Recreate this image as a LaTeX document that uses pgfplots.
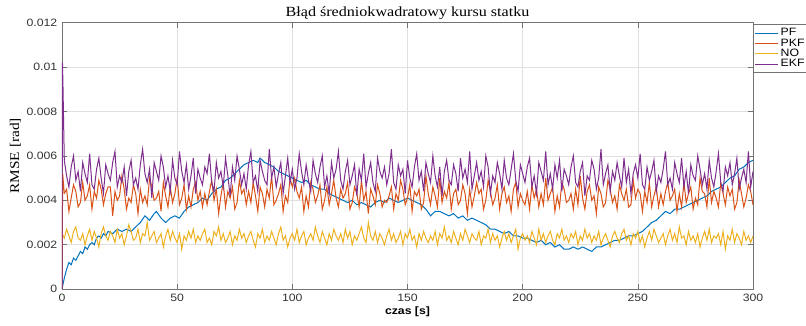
\documentclass[border=0pt]{standalone}
\usepackage{pgfplots}
\pgfplotsset{compat=1.18}
\usepackage{fontspec}
\setmainfont{Liberation Sans}[FakeStretch=1.15]
\newfontfamily\titlefont{Liberation Serif}[FakeStretch=1.15]
\definecolor{cPF}{rgb}{0,0.447,0.741}
\definecolor{cPKF}{rgb}{0.85,0.325,0.098}
\definecolor{cNO}{rgb}{0.929,0.694,0.125}
\definecolor{cEKF}{rgb}{0.494,0.184,0.556}
\begin{document}
\begin{tikzpicture}
\begin{axis}[
 scale only axis, width=518.25pt, height=200pt,
 xmin=0, xmax=300, ymin=0, ymax=0.012,
 xtick={0,50,100,150,200,250,300}, xticklabels={0,50,100,150,200,250,300},
 ytick={0,0.002,0.004,0.006,0.008,0.01,0.012}, yticklabels={0,0.002,0.004,0.006,0.008,0.01,0.012},
 scaled y ticks=false,
 tick align=inside, major tick length=4pt,
 grid=major, major grid style={black!12, line width=0.4pt},
 axis line style={black!55, line width=0.5pt},
 tick style={black!55, line width=0.5pt},
 tick label style={font=\fontsize{8}{9}\selectfont, text=black!80},
 title={\titlefont Błąd średniokwadratowy kursu statku},
 every axis title/.style={at={(0.5,1)}, anchor=base, yshift=4.9pt, font=\fontsize{10.5}{12}\selectfont},
 ylabel={\titlefont RMSE [rad]},
 ylabel style={font=\fontsize{10}{12}\selectfont, at={(axis description cs:-0.0675,0.5)}, anchor=center},
 xlabel={czas [s]},
 xlabel style={font=\fontsize{8}{9}\selectfont\bfseries, at={(axis description cs:0.5,0)}, anchor=center, yshift=-17.25pt},
 legend style={at={(1,1)}, anchor=north west, yshift=-1.2pt, draw=black!55, fill=white, font=\fontsize{8}{9}\selectfont, inner xsep=1pt, inner ysep=1pt, row sep=-3.3pt},
 legend cell align=left,
 legend image code/.code={\draw[#1, line width=0.6pt] (0pt,0pt) -- (17pt,0pt);},
 every axis plot/.append style={line width=0.75pt},
]
\addplot[cPF] coordinates {(0,0) (1,0.0005) (2,0.0009) (3,0.0012) (4,0.0011) (5,0.0014) (6,0.0013) (7,0.0015) (8,0.0017) (9,0.0016) (10,0.0019) (11,0.0018) (12,0.0020) (13,0.0021) (14,0.0020) (15,0.0023) (16,0.0024) (17,0.0023) (18,0.0025) (19,0.0024) (20,0.0026) (22,0.0025) (24,0.0027) (26,0.0026) (28,0.0027) (30,0.0026) (32,0.0028) (34,0.0030) (36,0.0033) (38,0.0031) (40,0.0034) (41,0.0035) (43,0.0032) (45,0.0030) (47,0.0032) (49,0.0033) (51,0.0032) (53,0.0035) (55,0.0037) (57,0.0038) (59,0.0039) (61,0.0041) (63,0.0040) (65,0.0043) (67,0.0045) (69,0.0046) (71,0.0049) (73,0.0050) (75,0.0052) (77,0.0054) (79,0.0056) (81,0.0057) (83,0.0058) (85,0.0057) (86,0.0059) (88,0.0057) (90,0.0056) (92,0.0055) (94,0.0053) (96,0.0052) (98,0.0051) (100,0.0050) (102,0.0049) (104,0.0048) (106,0.0049) (108,0.0047) (110,0.0046) (112,0.0045) (114,0.0045) (116,0.0043) (118,0.0042) (120,0.0041) (122,0.0040) (124,0.0039) (126,0.0040) (128,0.0038) (130,0.0039) (132,0.0038) (134,0.0037) (136,0.0039) (138,0.0040) (140,0.0039) (142,0.0041) (144,0.0040) (146,0.0039) (148,0.0040) (150,0.0041) (152,0.0040) (154,0.0039) (156,0.0038) (158,0.0036) (160,0.0033) (162,0.0035) (164,0.0035) (166,0.0034) (168,0.0033) (170,0.0034) (172,0.0032) (174,0.0033) (176,0.0031) (178,0.0032) (180,0.0031) (182,0.0030) (184,0.0029) (186,0.0027) (188,0.0027) (190,0.0026) (192,0.0025) (194,0.0026) (196,0.0024) (198,0.0024) (200,0.0023) (202,0.0023) (204,0.0022) (206,0.0021) (208,0.0022) (210,0.0020) (212,0.0021) (214,0.0019) (216,0.0020) (218,0.0018) (220,0.0018) (222,0.0019) (224,0.0018) (226,0.0019) (228,0.0018) (230,0.0017) (232,0.0019) (234,0.0019) (236,0.0020) (238,0.0021) (240,0.0022) (242,0.0022) (244,0.0023) (246,0.0024) (248,0.0024) (250,0.0025) (252,0.0026) (254,0.0028) (256,0.0030) (258,0.0031) (260,0.0033) (262,0.0035) (264,0.0034) (266,0.0036) (268,0.0036) (270,0.0037) (272,0.0038) (274,0.0039) (276,0.0040) (278,0.0041) (280,0.0042) (282,0.0044) (284,0.0045) (286,0.0046) (288,0.0048) (290,0.0050) (292,0.0051) (294,0.0054) (296,0.0055) (298,0.0057) (300,0.0058)};
\addlegendentry{PF}
\addplot[cPKF] table[row sep=\\, header=false, x expr=\coordindex+1, y index=0] {
0.0043\\0.0045\\0.0035\\0.0041\\0.0047\\0.0044\\0.0037\\0.0039\\0.0048\\0.0040\\0.0042\\0.0047\\0.0036\\0.0044\\0.0041\\0.0049\\0.0045\\0.0038\\0.0043\\0.0046\\
0.0046\\0.0033\\0.0044\\0.0040\\0.0042\\0.0051\\0.0045\\0.0036\\0.0041\\0.0039\\0.0047\\0.0043\\0.0034\\0.0045\\0.0039\\0.0042\\0.0038\\0.0050\\0.0046\\0.0040\\
0.0041\\0.0044\\0.0035\\0.0048\\0.0042\\0.0037\\0.0046\\0.0039\\0.0043\\0.0050\\0.0038\\0.0041\\0.0047\\0.0036\\0.0042\\0.0037\\0.0045\\0.0048\\0.0040\\0.0044\\
0.0037\\0.0043\\0.0038\\0.0044\\0.0049\\0.0040\\0.0045\\0.0034\\0.0042\\0.0048\\0.0037\\0.0044\\0.0041\\0.0046\\0.0036\\0.0039\\0.0049\\0.0043\\0.0045\\0.0038\\
0.0044\\0.0039\\0.0048\\0.0042\\0.0035\\0.0046\\0.0043\\0.0037\\0.0045\\0.0041\\0.0051\\0.0038\\0.0040\\0.0043\\0.0047\\0.0035\\0.0042\\0.0039\\0.0050\\0.0046\\
0.0050\\0.0044\\0.0041\\0.0046\\0.0035\\0.0042\\0.0037\\0.0048\\0.0045\\0.0039\\0.0042\\0.0047\\0.0036\\0.0040\\0.0046\\0.0038\\0.0043\\0.0049\\0.0041\\0.0037\\
0.0045\\0.0041\\0.0043\\0.0048\\0.0036\\0.0039\\0.0046\\0.0043\\0.0037\\0.0049\\0.0040\\0.0044\\0.0034\\0.0045\\0.0042\\0.0038\\0.0047\\0.0043\\0.0037\\0.0040\\
0.0039\\0.0042\\0.0046\\0.0036\\0.0043\\0.0040\\0.0049\\0.0045\\0.0038\\0.0041\\0.0047\\0.0035\\0.0044\\0.0042\\0.0045\\0.0036\\0.0039\\0.0051\\0.0043\\0.0038\\
0.0046\\0.0042\\0.0037\\0.0050\\0.0039\\0.0044\\0.0041\\0.0048\\0.0036\\0.0043\\0.0045\\0.0038\\0.0040\\0.0047\\0.0043\\0.0034\\0.0045\\0.0037\\0.0042\\0.0048\\
0.0043\\0.0045\\0.0036\\0.0040\\0.0049\\0.0044\\0.0038\\0.0041\\0.0047\\0.0036\\0.0043\\0.0046\\0.0039\\0.0042\\0.0035\\0.0045\\0.0048\\0.0037\\0.0043\\0.0040\\
0.0038\\0.0044\\0.0036\\0.0047\\0.0041\\0.0045\\0.0037\\0.0043\\0.0038\\0.0050\\0.0040\\0.0043\\0.0046\\0.0035\\0.0042\\0.0037\\0.0048\\0.0045\\0.0039\\
0.0040\\0.0043\\0.0036\\0.0045\\0.0038\\0.0051\\0.0041\\0.0036\\0.0044\\0.0047\\0.0040\\0.0042\\0.0034\\0.0046\\0.0043\\0.0037\\0.0039\\0.0049\\0.0045\\
0.0039\\0.0042\\0.0036\\0.0047\\0.0043\\0.0040\\0.0045\\0.0037\\0.0038\\0.0049\\0.0041\\0.0045\\0.0043\\0.0035\\0.0044\\0.0039\\0.0048\\0.0037\\0.0042\\0.0046\\
0.0037\\0.0043\\0.0038\\0.0044\\0.0048\\0.0040\\0.0042\\0.0045\\0.0035\\0.0043\\0.0037\\0.0048\\0.0039\\0.0043\\0.0046\\0.0036\\0.0041\\0.0038\\0.0050\\0.0044\\
0.0043\\0.0037\\0.0050\\0.0039\\0.0044\\0.0041\\0.0037\\0.0048\\0.0043\\0.0038\\0.0046\\0.0042\\0.0045\\0.0036\\0.0039\\0.0049\\0.0043\\0.0037\\0.0041\\0.0047\\
0.0044\\0.0038\\
};
\addlegendentry{PKF}
\addplot[cNO] table[row sep=\\, header=false, x expr=\coordindex, y index=0] {
0.0025\\0.0023\\0.0027\\0.0024\\0.0021\\0.0026\\0.0028\\0.0023\\0.0022\\0.0025\\0.0020\\0.0024\\0.0027\\0.0022\\0.0026\\0.0023\\0.0019\\0.0025\\0.0028\\0.0024\\
0.0022\\0.0026\\0.0024\\0.0021\\0.0027\\0.0023\\0.0025\\0.0020\\0.0024\\0.0029\\0.0026\\0.0022\\0.0023\\0.0027\\0.0021\\0.0025\\0.0024\\0.0030\\0.0022\\0.0024\\
0.0026\\0.0021\\0.0023\\0.0025\\0.0019\\0.0024\\0.0027\\0.0022\\0.0026\\0.0023\\0.0021\\0.0025\\0.0018\\0.0024\\0.0022\\0.0026\\0.0023\\0.0027\\0.0021\\0.0024\\
0.0022\\0.0025\\0.0027\\0.0021\\0.0023\\0.0020\\0.0026\\0.0024\\0.0028\\0.0022\\0.0025\\0.0021\\0.0023\\0.0026\\0.0020\\0.0024\\0.0022\\0.0027\\0.0023\\0.0025\\
0.0021\\0.0024\\0.0026\\0.0022\\0.0019\\0.0025\\0.0023\\0.0027\\0.0021\\0.0024\\0.0022\\0.0026\\0.0023\\0.0020\\0.0025\\0.0028\\0.0022\\0.0024\\0.0019\\0.0023\\
0.0025\\0.0022\\0.0027\\0.0021\\0.0024\\0.0026\\0.0020\\0.0023\\0.0025\\0.0022\\0.0028\\0.0024\\0.0021\\0.0026\\0.0023\\0.0020\\0.0025\\0.0022\\0.0027\\0.0024\\
0.0022\\0.0025\\0.0021\\0.0027\\0.0023\\0.0026\\0.0020\\0.0024\\0.0022\\0.0025\\0.0028\\0.0023\\0.0021\\0.0030\\0.0024\\0.0022\\0.0026\\0.0021\\0.0025\\0.0023\\
0.0020\\0.0024\\0.0027\\0.0022\\0.0025\\0.0021\\0.0023\\0.0026\\0.0020\\0.0025\\0.0023\\0.0027\\0.0022\\0.0024\\0.0019\\0.0025\\0.0022\\0.0026\\0.0023\\0.0021\\
0.0024\\0.0022\\0.0026\\0.0020\\0.0025\\0.0023\\0.0028\\0.0022\\0.0024\\0.0021\\0.0026\\0.0023\\0.0020\\0.0025\\0.0022\\0.0027\\0.0024\\0.0021\\0.0025\\0.0023\\
0.0022\\0.0026\\0.0020\\0.0024\\0.0023\\0.0027\\0.0021\\0.0025\\0.0022\\0.0024\\0.0019\\0.0023\\0.0026\\0.0022\\0.0025\\0.0021\\0.0024\\0.0027\\0.0018\\0.0023\\
0.0025\\0.0022\\0.0024\\0.0021\\0.0026\\0.0023\\0.0020\\0.0027\\0.0022\\0.0025\\0.0021\\0.0024\\0.0026\\0.0022\\0.0020\\0.0025\\0.0023\\0.0027\\0.0022\\0.0024\\
0.0021\\0.0025\\0.0023\\0.0026\\0.0020\\0.0024\\0.0022\\0.0027\\0.0023\\0.0025\\0.0021\\0.0024\\0.0022\\0.0026\\0.0020\\0.0023\\0.0025\\0.0022\\0.0019\\0.0024\\
0.0026\\0.0023\\0.0021\\0.0025\\0.0027\\0.0022\\0.0024\\0.0020\\0.0025\\0.0023\\0.0026\\0.0021\\0.0024\\0.0019\\0.0023\\0.0026\\0.0022\\0.0027\\0.0024\\0.0021\\
0.0023\\0.0025\\0.0020\\0.0024\\0.0027\\0.0022\\0.0025\\0.0021\\0.0028\\0.0023\\0.0024\\0.0020\\0.0026\\0.0022\\0.0024\\0.0021\\0.0025\\0.0019\\0.0023\\0.0026\\
0.0022\\0.0027\\0.0021\\0.0024\\0.0023\\0.0025\\0.0020\\0.0026\\0.0018\\0.0024\\0.0022\\0.0027\\0.0021\\0.0025\\0.0023\\0.0020\\0.0026\\0.0022\\0.0024\\0.0021\\
0.0024\\
};
\addlegendentry{NO}
\addplot[cEKF] table[row sep=\\, header=false, x expr=\coordindex+1, y index=0] {
0.0058\\0.0051\\0.0046\\0.0055\\0.0060\\0.0049\\0.0053\\0.0044\\0.0057\\0.0052\\0.0048\\0.0061\\0.0047\\0.0045\\0.0054\\0.0059\\0.0050\\0.0043\\0.0056\\0.0052\\
0.0049\\0.0057\\0.0062\\0.0046\\0.0051\\0.0048\\0.0055\\0.0042\\0.0053\\0.0058\\0.0047\\0.0050\\0.0045\\0.0056\\0.0063\\0.0052\\0.0048\\0.0054\\0.0041\\0.0057\\
0.0053\\0.0049\\0.0060\\0.0055\\0.0046\\0.0051\\0.0044\\0.0058\\0.0050\\0.0047\\0.0062\\0.0053\\0.0048\\0.0056\\0.0045\\0.0051\\0.0059\\0.0043\\0.0054\\0.0050\\
0.0047\\0.0055\\0.0052\\0.0061\\0.0048\\0.0044\\0.0057\\0.0050\\0.0053\\0.0046\\0.0059\\0.0051\\0.0042\\0.0055\\0.0049\\0.0060\\0.0054\\0.0047\\0.0052\\0.0045\\
0.0056\\0.0062\\0.0048\\0.0051\\0.0044\\0.0058\\0.0053\\0.0049\\0.0047\\0.0063\\0.0050\\0.0055\\0.0046\\0.0052\\0.0057\\0.0043\\0.0051\\0.0059\\0.0048\\0.0054\\
0.0045\\0.0050\\0.0061\\0.0053\\0.0047\\0.0056\\0.0049\\0.0044\\0.0058\\0.0052\\0.0048\\0.0055\\0.0060\\0.0046\\0.0051\\0.0043\\0.0057\\0.0050\\0.0054\\0.0062\\
0.0049\\0.0045\\0.0053\\0.0058\\0.0047\\0.0051\\0.0056\\0.0042\\0.0054\\0.0049\\0.0061\\0.0046\\0.0052\\0.0057\\0.0048\\0.0044\\0.0059\\0.0053\\0.0050\\0.0055\\
0.0047\\0.0052\\0.0063\\0.0048\\0.0045\\0.0056\\0.0051\\0.0054\\0.0043\\0.0058\\0.0050\\0.0046\\0.0055\\0.0061\\0.0049\\0.0053\\0.0044\\0.0057\\0.0052\\0.0048\\
0.0060\\0.0051\\0.0046\\0.0055\\0.0042\\0.0053\\0.0058\\0.0049\\0.0047\\0.0056\\0.0052\\0.0044\\0.0059\\0.0050\\0.0054\\0.0048\\0.0062\\0.0045\\0.0051\\0.0057\\
0.0049\\0.0053\\0.0046\\0.0060\\0.0055\\0.0043\\0.0051\\0.0048\\0.0057\\0.0052\\0.0045\\0.0058\\0.0050\\0.0047\\0.0054\\0.0061\\0.0049\\0.0044\\0.0056\\0.0052\\
0.0048\\0.0055\\0.0059\\0.0046\\0.0051\\0.0043\\0.0057\\0.0053\\0.0049\\0.0062\\0.0047\\0.0052\\0.0045\\0.0056\\0.0050\\0.0058\\0.0044\\0.0054\\0.0051\\0.0047\\
0.0055\\0.0060\\0.0048\\0.0046\\0.0053\\0.0057\\0.0042\\0.0051\\0.0049\\0.0058\\0.0054\\0.0045\\0.0050\\0.0063\\0.0047\\0.0052\\0.0056\\0.0044\\0.0053\\0.0049\\
0.0057\\0.0051\\0.0046\\0.0059\\0.0048\\0.0054\\0.0043\\0.0052\\0.0056\\0.0050\\0.0061\\0.0047\\0.0045\\0.0055\\0.0049\\0.0053\\0.0058\\0.0044\\0.0051\\0.0048\\
0.0054\\0.0062\\0.0047\\0.0050\\0.0045\\0.0057\\0.0052\\0.0048\\0.0059\\0.0046\\0.0053\\0.0043\\0.0056\\0.0051\\0.0049\\0.0060\\0.0054\\0.0047\\0.0052\\0.0045\\
0.0058\\0.0050\\0.0046\\0.0053\\0.0061\\0.0048\\0.0044\\0.0055\\0.0051\\0.0057\\0.0047\\0.0052\\0.0059\\0.0045\\0.0050\\0.0054\\0.0048\\0.0062\\0.0046\\0.0053\\
};
\addlegendentry{EKF}
\addplot[cPKF, forget plot] coordinates {(0,0) (0.3,0.0052) (1,0.0043)};
\addplot[cEKF, forget plot] coordinates {(0,0) (0.2,0.0102) (0.4,0.0093) (0.7,0.0075) (1,0.0058)};
\end{axis}
\pgfresetboundingbox
\path[use as bounding box] ([xshift=-46.5pt,yshift=-27.25pt]current axis.south west) rectangle ([xshift=39.75pt,yshift=16.9pt]current axis.north east);
\end{tikzpicture}
\end{document}
